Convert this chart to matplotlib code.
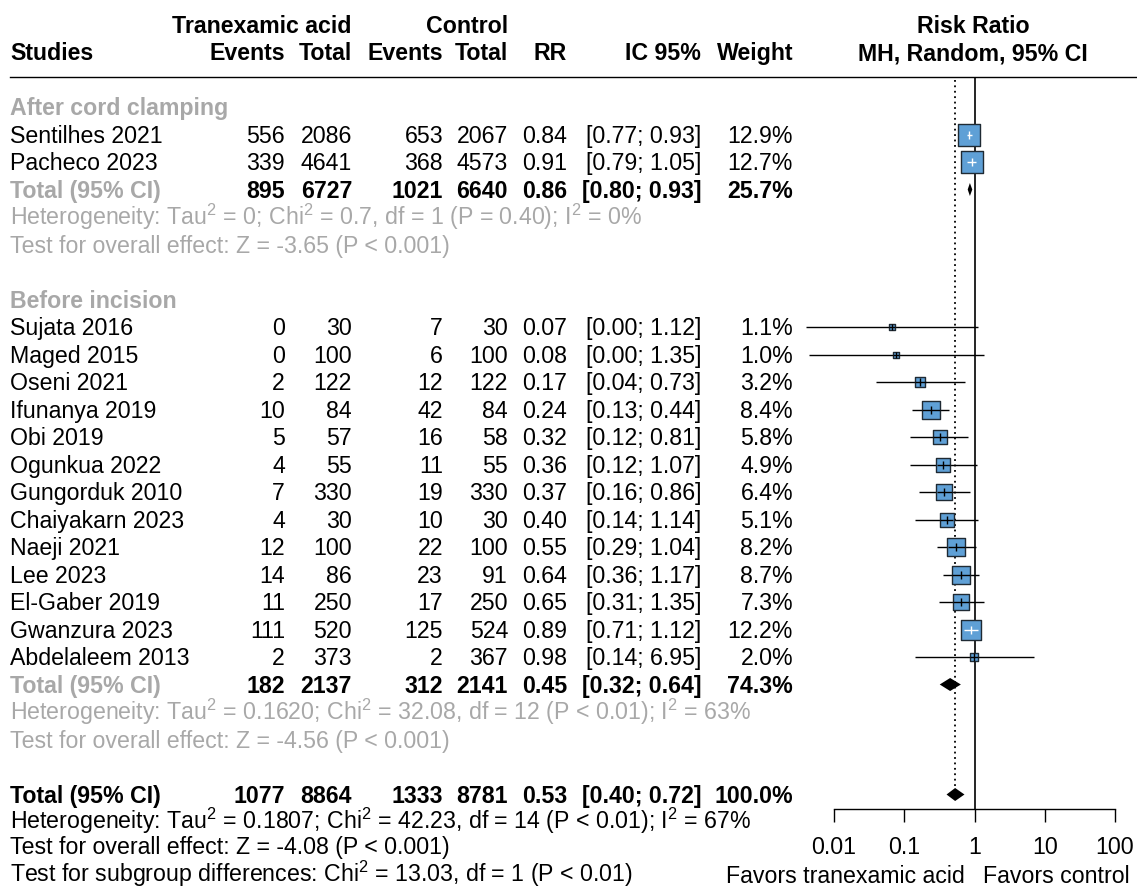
import matplotlib
matplotlib.use("Agg")
import matplotlib.pyplot as plt
from matplotlib.lines import Line2D
from matplotlib.ticker import FixedLocator, FixedFormatter, NullLocator
import numpy as np

# ---------------- data ----------------
sub1_name = "After cord clamping"
studies1 = ["Sentilhes 2021", "Pacheco 2023"]
ev_t1 = [556, 339]
n_t1 = [2086, 4641]
ev_c1 = [653, 368]
n_c1 = [2067, 4573]
rr1 = [0.84, 0.91]
lo1 = [0.77, 0.79]
hi1 = [0.93, 1.05]
w1 = [12.9, 12.7]
tot1 = [895, 6727, 1021, 6640]
pool1 = [0.86, 0.80, 0.93, 25.7]
het1 = "Heterogeneity: Tau$^2$ = 0; Chi$^2$ = 0.7, df = 1 (P = 0.40); I$^2$ = 0%"
test1 = "Test for overall effect: Z = -3.65 (P < 0.001)"

sub2_name = "Before incision"
studies2 = ["Sujata 2016", "Maged 2015", "Oseni 2021", "Ifunanya 2019", "Obi 2019",
            "Ogunkua 2022", "Gungorduk 2010", "Chaiyakarn 2023", "Naeji 2021",
            "Lee 2023", "El-Gaber 2019", "Gwanzura 2023", "Abdelaleem 2013"]
ev_t2 = [0, 0, 2, 10, 5, 4, 7, 4, 12, 14, 11, 111, 2]
n_t2 = [30, 100, 122, 84, 57, 55, 330, 30, 100, 86, 250, 520, 373]
ev_c2 = [7, 6, 12, 42, 16, 11, 19, 10, 22, 23, 17, 125, 2]
n_c2 = [30, 100, 122, 84, 58, 55, 330, 30, 100, 91, 250, 524, 367]
rr2 = [0.067, 0.077, 0.17, 0.24, 0.32, 0.36, 0.37, 0.40, 0.55, 0.64, 0.65, 0.89, 0.98]
lo2 = [0.004, 0.0044, 0.04, 0.13, 0.12, 0.12, 0.16, 0.14, 0.29, 0.36, 0.31, 0.71, 0.14]
hi2 = [1.12, 1.35, 0.73, 0.44, 0.81, 1.07, 0.86, 1.14, 1.04, 1.17, 1.35, 1.12, 6.95]
w2 = [1.1, 1.0, 3.2, 8.4, 5.8, 4.9, 6.4, 5.1, 8.2, 8.7, 7.3, 12.2, 2.0]
tot2 = [182, 2137, 312, 2141]
pool2 = [0.45, 0.32, 0.64, 74.3]
het2 = "Heterogeneity: Tau$^2$ = 0.1620; Chi$^2$ = 32.08, df = 12 (P < 0.01); I$^2$ = 63%"
test2 = "Test for overall effect: Z = -4.56 (P < 0.001)"

tot_all = [1077, 8864, 1333, 8781]
pool_all = [0.53, 0.40, 0.72, 100.0]
het_all = "Heterogeneity: Tau$^2$ = 0.1807; Chi$^2$ = 42.23, df = 14 (P < 0.01); I$^2$ = 67%"
test_all = "Test for overall effect: Z = -4.08 (P < 0.001)"
test_sub = "Test for subgroup differences: Chi$^2$ = 13.03, df = 1 (P < 0.01)"

tick_vals = [0.01, 0.1, 1, 10, 100]
tick_labels = ["0.01", "0.1", "1", "10", "100"]
label_left = "Favors tranexamic acid"
label_right = "Favors control"

# ---------------- style / layout ----------------
plt.rcParams['font.family'] = ['Liberation Sans', 'DejaVu Sans']
plt.rcParams['mathtext.fontset'] = 'custom'
plt.rcParams['mathtext.rm'] = 'Liberation Sans'
plt.rcParams['mathtext.it'] = 'Liberation Sans:italic'
plt.rcParams['mathtext.bf'] = 'Liberation Sans:bold'
W, H = 1137, 889
FS = 16.7
GRAY = '#a8a8a8'
BOX = '#5fa0d6'
ROW0, DY = 107.0, 27.5
BASE = 8.3

fig = plt.figure(figsize=(W / 100, H / 100), dpi=100)


def ypx(r):
    return ROW0 + DY * r


def txt(x, y, s, ha='left', bold=False, color='black'):
    fig.text(x / W, 1 - (y + BASE) / H, s, ha=ha, va='baseline', fontsize=FS,
             fontweight='bold' if bold else 'normal', color=color)


# column right edges
X_STUDY, X_EVT, X_NT, X_EVC, X_NC, X_RR, X_CI, X_W = 10, 285, 352, 443, 508, 567, 701, 793
X_MID = 973

# header
txt(X_NT, 25, "Tranexamic acid", ha='right', bold=True)
txt(X_NC, 25, "Control", ha='right', bold=True)
txt(X_MID, 25, "Risk Ratio", ha='center', bold=True)
txt(X_STUDY, 52, "Studies", bold=True)
txt(X_EVT, 52, "Events", ha='right', bold=True)
txt(X_NT, 52, "Total", ha='right', bold=True)
txt(X_EVC, 52, "Events", ha='right', bold=True)
txt(X_NC, 52, "Total", ha='right', bold=True)
txt(X_RR, 52, "RR", ha='right', bold=True)
txt(X_CI, 52, "IC 95%", ha='right', bold=True)
txt(X_W, 52, "Weight", ha='right', bold=True)
txt(X_MID, 52, "MH, Random, 95% CI", ha='center', bold=True)
fig.add_artist(Line2D([10 / W, 1.0], [1 - 77 / H, 1 - 77 / H], color='black', lw=1.0))

# forest axes
AX_L, AX_R, AX_T, AX_B = 834, 1115, 77, 809
ax = fig.add_axes([AX_L / W, 1 - AX_B / H, (AX_R - AX_L) / W, (AX_B - AX_T) / H])
ax.set_xscale('log')
ax.set_xlim(0.01, 100)
ax.set_ylim((AX_B - ROW0) / DY, (AX_T - ROW0) / DY)
ax.patch.set_alpha(0)
for s in ['top', 'left', 'right']:
    ax.spines[s].set_visible(False)
ax.spines['bottom'].set_linewidth(1.0)
ax.set_yticks([])
ax.xaxis.set_major_locator(FixedLocator(tick_vals))
ax.xaxis.set_major_formatter(FixedFormatter(tick_labels))
ax.xaxis.set_minor_locator(NullLocator())
ax.tick_params(axis='x', direction='out', length=9.4, width=1.0, pad=10, labelsize=FS)
PX_DEC = (AX_R - AX_L) / 4.0


def study_row(r, name, et, nt, ec, nc, rr, lo, hi, w):
    y = ypx(r)
    txt(X_STUDY, y, name)
    txt(X_EVT, y, str(et), ha='right')
    txt(X_NT, y, str(nt), ha='right')
    txt(X_EVC, y, str(ec), ha='right')
    txt(X_NC, y, str(nc), ha='right')
    txt(X_RR, y, f"{rr:.2f}", ha='right')
    txt(X_CI, y, f"[{lo:.2f}; {hi:.2f}]", ha='right')
    txt(X_W, y, f"{w:.1f}%", ha='right')
    side = 6.0 * np.sqrt(w)
    half_log = side / 2 / PX_DEC
    inside = (rr * 10 ** (-half_log) <= lo) and (rr * 10 ** half_log >= hi)
    th = min(side / 2, 4.0) / DY
    ax.plot([lo, hi], [r, r], color='black', lw=1.0, zorder=2, clip_on=False, solid_capstyle='butt')
    ax.scatter([rr], [r], marker='s', s=(side * 0.72) ** 2, facecolor=BOX,
               edgecolor='#1f2a33', linewidths=1.0, zorder=3, clip_on=False)
    c = 'white' if inside else 'black'
    if inside:
        ax.plot([lo, hi], [r, r], color=c, lw=1.0, zorder=4, solid_capstyle='butt')
    else:
        blo, bhi = rr * 10 ** (-half_log), rr * 10 ** half_log
        ax.plot([max(lo, blo), min(hi, bhi)], [r, r], color=c, lw=1.0, zorder=4,
                solid_capstyle='butt')
    ax.plot([rr, rr], [r - th, r + th], color=c, lw=1.0, zorder=4, solid_capstyle='butt')


def total_row(r, label, tot, pool, label_color):
    y = ypx(r)
    txt(X_STUDY, y, label, bold=True, color=label_color)
    for x, v in zip([X_EVT, X_NT, X_EVC, X_NC], tot):
        txt(x, y, str(v), ha='right', bold=True)
    est, lo, hi, w = pool
    txt(X_RR, y, f"{est:.2f}", ha='right', bold=True)
    txt(X_CI, y, f"[{lo:.2f}; {hi:.2f}]", ha='right', bold=True)
    txt(X_W, y, f"{w:.1f}%", ha='right', bold=True)
    hd = 6.5 / DY
    ax.fill([lo, est, hi, est], [r, r - hd, r, r + hd], color='black', lw=0, zorder=5)


# subgroup 1
txt(X_STUDY, ypx(0), sub1_name, bold=True, color=GRAY)
for i in range(len(studies1)):
    study_row(1 + i, studies1[i], ev_t1[i], n_t1[i], ev_c1[i], n_c1[i], rr1[i], lo1[i], hi1[i], w1[i])
total_row(3, "Total (95% CI)", tot1, pool1, GRAY)
txt(X_STUDY, ypx(4), het1, color=GRAY)
txt(X_STUDY, ypx(5), test1, color=GRAY)

# subgroup 2
txt(X_STUDY, ypx(7), sub2_name, bold=True, color=GRAY)
for i in range(len(studies2)):
    study_row(8 + i, studies2[i], ev_t2[i], n_t2[i], ev_c2[i], n_c2[i], rr2[i], lo2[i], hi2[i], w2[i])
total_row(21, "Total (95% CI)", tot2, pool2, GRAY)
txt(X_STUDY, ypx(22), het2, color=GRAY)
txt(X_STUDY, ypx(23), test2, color=GRAY)

# overall
total_row(25, "Total (95% CI)", tot_all, pool_all, 'black')
txt(X_STUDY, ypx(26) - 1.5, het_all)
txt(X_STUDY, ypx(27) - 3.5, test_all)
txt(X_STUDY, ypx(28) - 3.5, test_sub)

# reference lines
ax.axvline(1, color='black', lw=1.2, zorder=1)
ax.plot([pool_all[0], pool_all[0]], [(80 - ROW0) / DY, 25 - 6.5 / DY], color='black',
        lw=1.3, ls=(0, (1, 2)), zorder=1)

txt(965, 875, label_left, ha='right')
txt(983, 875, label_right, ha='left')

fig.savefig('out.png', dpi=100)
